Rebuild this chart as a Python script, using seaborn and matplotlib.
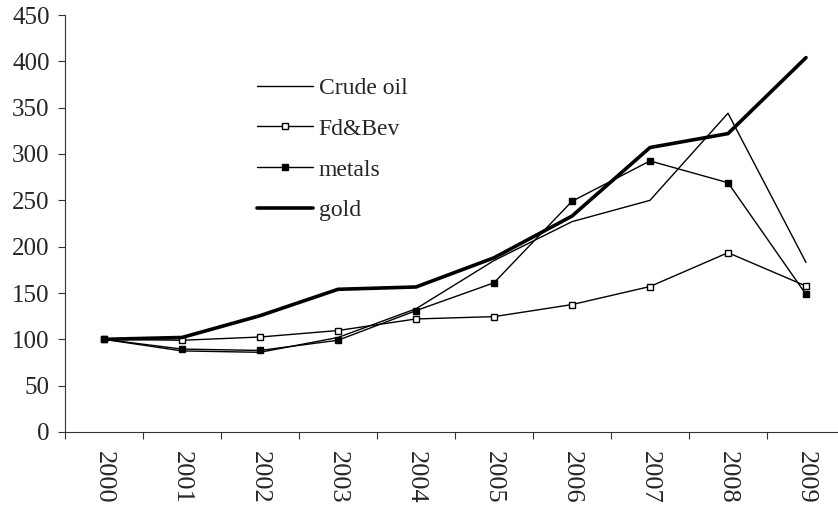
import numpy as np
import pandas as pd
import seaborn as sns
import matplotlib.pyplot as plt

years = ['2000', '2001', '2002', '2003', '2004', '2005', '2006', '2007', '2008', '2009']
crude_oil = [100, 87.5, 86, 102, 133, 185, 227, 250, 344, 183]
fd_bev = [100, 99, 102.5, 109.5, 122, 124.5, 137.5, 157, 193.5, 157.5]
metals = [100, 89.5, 88, 99, 131, 161, 249, 292.5, 269, 148.5]
gold = [100, 102, 125.5, 154, 156.5, 188, 233, 307, 322, 404]


def make_plot():
    sns.set_theme(style='white')
    plt.rcParams['font.family'] = ['Liberation Serif', 'DejaVu Serif']

    fig = plt.figure(figsize=(8.38, 5.08), dpi=100)
    ax = fig.add_axes([65 / 838, 1 - 432 / 508, 780 / 838, 417 / 508])

    x = np.arange(len(years))
    series = [
        ('Crude oil', crude_oil, None, 'black', 1.0),
        ('Fd&Bev', fd_bev, 's', 'white', 1.0),
        ('metals', metals, 's', 'black', 1.0),
        ('gold', gold, None, 'black', 2.6),
    ]
    for name, vals, mk, fc, lw in series:
        df = pd.DataFrame({'year': x, 'value': vals})
        sns.lineplot(data=df, x='year', y='value', ax=ax, color='black', linewidth=lw,
                     marker=mk, markersize=5, markerfacecolor=fc, markeredgecolor='black',
                     markeredgewidth=1.0, label=name)

    ax.set_xlim(-0.5, len(years) - 0.5)
    ax.set_ylim(0, 450)
    ax.set_yticks(range(0, 451, 50))
    ax.set_xticks(x)
    ax.set_xticklabels(years, rotation=270, fontsize=19)
    ax.set_xticks(np.arange(-0.5, len(years), 1), minor=True)
    ax.tick_params(axis='x', which='major', length=0, pad=14)
    ax.tick_params(axis='x', which='minor', length=5, width=0.8, color='#333333', direction='out', bottom=True)
    ax.tick_params(axis='y', length=5, width=0.8, color='#333333', direction='out', left=True, labelsize=18, pad=6)
    ax.set_xlabel('')
    ax.set_ylabel('')
    for s in ['top', 'right']:
        ax.spines[s].set_visible(False)
    for s in ['left', 'bottom']:
        ax.spines[s].set_color('#333333')
        ax.spines[s].set_linewidth(0.8)

    ax.legend(loc='upper left', bbox_to_anchor=(171 / 780, 1 - 41 / 417), frameon=False,
              fontsize=17, handlelength=2.35, handletextpad=0.25, labelspacing=0.82)

    fig.savefig('out.png', dpi=100)
    plt.close(fig)


if __name__ == '__main__':
    make_plot()
